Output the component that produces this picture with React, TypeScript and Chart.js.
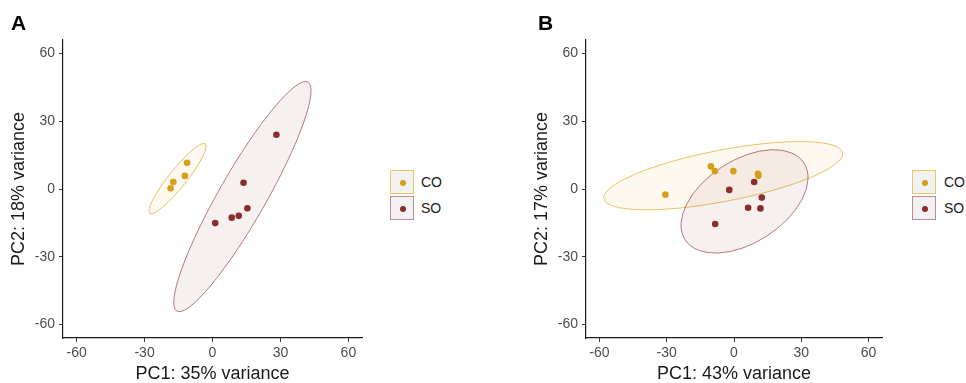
import React, { useEffect, useRef } from "react";
import { Chart, registerables } from "chart.js";
Chart.register(...registerables);

const groups = ["CO", "SO"];
const pcA_CO_x = [-11.2, -12.2, -17.3, -18.5];
const pcA_CO_y = [11.6, 5.8, 3.1, 0.3];
const pcA_SO_x = [28.2, 13.7, 15.4, 11.6, 8.5, 1.2];
const pcA_SO_y = [24.0, 2.8, -8.5, -11.9, -12.7, -15.1];
const pcB_CO_x = [-30.6, -10.3, -8.5, -0.3, 10.7, 10.9];
const pcB_CO_y = [-2.5, 10.0, 7.9, 7.9, 6.7, 5.9];
const pcB_SO_x = [9.0, -2.1, 12.4, 6.3, 11.8, -8.4];
const pcB_SO_y = [3.1, -0.4, -3.8, -8.3, -8.6, -15.5];
// ellipse: [centerX, centerY, semiMajor, semiMinor, angleDeg]
const ellA_CO = [-15.45, 4.6, 19.7, 3.9, 51.5];
const ellA_SO = [13.2, -3.35, 58.4, 10.4, 60.3];
const ellB_CO = [-4.8, 5.9, 54.2, 11.4, 10.8];
const ellB_SO = [4.7, -5.5, 31.5, 18.3, 32.5];
const axisTicks = [-60, -30, 0, 30, 60];
const axisMin = -66;
const axisMax = 66;
const xTitleA = "PC1: 35% variance";
const yTitleA = "PC2: 18% variance";
const xTitleB = "PC1: 43% variance";
const yTitleB = "PC2: 17% variance";

const FONT = "'Liberation Sans', Arial, Helvetica, sans-serif";
const CO_COLOR = "#D5A017";
const SO_COLOR = "#8C2D2D";
const CO_STROKE = "rgba(222,176,50,0.75)";
const SO_STROKE = "rgba(150,70,75,0.7)";
const CO_FILL = "rgba(222,170,40,0.07)";
const SO_FILL = "rgba(140,45,45,0.07)";

const ellipsePlugin = {
  id: "ellipses",
  beforeDatasetsDraw(chart: any, _args: any, opts: any) {
    const { ctx, chartArea, scales } = chart;
    const x = scales.x;
    const y = scales.y;
    ctx.save();
    ctx.beginPath();
    ctx.rect(chartArea.left, chartArea.top, chartArea.right - chartArea.left, chartArea.bottom - chartArea.top);
    ctx.clip();
    for (const e of opts.items || []) {
      const [cx, cy, a, b, ang] = e.params;
      const px = x.getPixelForValue(cx);
      const py = y.getPixelForValue(cy);
      const sx = x.getPixelForValue(cx + 1) - px;
      const sy = y.getPixelForValue(cy + 1) - py;
      ctx.save();
      ctx.translate(px, py);
      ctx.scale(sx, sy);
      ctx.rotate((ang * Math.PI) / 180);
      ctx.beginPath();
      ctx.ellipse(0, 0, a, b, 0, 0, Math.PI * 2);
      ctx.restore();
      ctx.fillStyle = e.fill;
      ctx.fill();
      ctx.strokeStyle = e.stroke;
      ctx.lineWidth = 1;
      ctx.stroke();
    }
    ctx.restore();
  },
};

function toPts(xs: number[], ys: number[]) {
  return xs.map((v, i) => ({ x: v, y: ys[i] }));
}

function axisCfg(title: string, horizontal: boolean, titlePad: number) {
  return {
    type: "linear",
    min: axisMin,
    max: axisMax,
    afterBuildTicks: (s: any) => {
      s.ticks = axisTicks.map((v) => ({ value: v }));
    },
    afterFit: (s: any) => {
      if (horizontal) s.height = 45;
      else s.width = 63;
    },
    ticks: {
      font: { size: 14, family: FONT },
      color: "#4D4D4D",
      padding: horizontal ? 3 : 4,
    },
    grid: {
      display: true,
      drawOnChartArea: false,
      drawTicks: true,
      tickLength: 4,
      color: "#333333",
      lineWidth: 1,
    },
    border: { display: true, color: "#1a1a1a", width: 1.2 },
    title: {
      display: true,
      text: title,
      color: "#1a1a1a",
      font: { size: 18, family: FONT, lineHeight: 1 },
      padding: titlePad,
    },
  };
}

function Panel(props: {
  left: number;
  padLeft: number;
  coX: number[];
  coY: number[];
  soX: number[];
  soY: number[];
  ellCO: number[];
  ellSO: number[];
  xTitle: string;
  yTitle: string;
}) {
  const ref = useRef<HTMLCanvasElement | null>(null);
  useEffect(() => {
    if (!ref.current) return;
    const chart = new Chart(ref.current, {
      type: "scatter",
      data: {
        datasets: [
          {
            label: groups[0],
            data: toPts(props.coX, props.coY),
            backgroundColor: CO_COLOR,
            borderColor: CO_COLOR,
            pointRadius: 3.3,
            borderWidth: 0,
          },
          {
            label: groups[1],
            data: toPts(props.soX, props.soY),
            backgroundColor: SO_COLOR,
            borderColor: SO_COLOR,
            pointRadius: 3.3,
            borderWidth: 0,
          },
        ],
      },
      plugins: [ellipsePlugin],
      options: {
        animation: false,
        responsive: false,
        devicePixelRatio: 1,
        layout: { padding: { left: props.padLeft, top: 40, right: 18, bottom: 0 } },
        scales: {
          x: axisCfg(props.xTitle, true, 0) as any,
          y: axisCfg(props.yTitle, false, 10.5) as any,
        },
        plugins: {
          legend: { display: false },
          tooltip: { enabled: false },
          ellipses: {
            items: [
              { params: props.ellCO, fill: CO_FILL, stroke: CO_STROKE },
              { params: props.ellSO, fill: SO_FILL, stroke: SO_STROKE },
            ],
          },
        } as any,
      },
    } as any);
    return () => chart.destroy();
  }, []);
  return (
    <canvas
      ref={ref}
      width={380}
      height={383}
      style={{ position: "absolute", left: props.left, top: 0, width: 380, height: 383 }}
    />
  );
}

function Legend(props: { left: number; textLeft: number }) {
  const items = [
    { name: groups[0], color: CO_COLOR, border: "#E8C766" },
    { name: groups[1], color: SO_COLOR, border: "#BE8C90" },
  ];
  return (
    <>
      {items.map((it, i) => (
        <React.Fragment key={it.name}>
          <div
            style={{
              position: "absolute",
              left: props.left,
              top: 170 + i * 26,
              width: 24,
              height: 24,
              boxSizing: "border-box",
              border: `1.5px solid ${it.border}`,
              background: "#F2F2F2",
            }}
          >
            <div
              style={{
                position: "absolute",
                left: 8.5,
                top: 8.5,
                width: 6,
                height: 6,
                borderRadius: 3,
                background: it.color,
              }}
            />
          </div>
          <div
            style={{
              position: "absolute",
              left: props.textLeft,
              top: 170 + i * 26,
              height: 24,
              lineHeight: "24px",
              fontSize: 14,
              fontFamily: FONT,
              color: "#1a1a1a",
            }}
          >
            {it.name}
          </div>
        </React.Fragment>
      ))}
    </>
  );
}

export default function App() {
  return (
    <div
      style={{
        position: "absolute",
        left: 0,
        top: 0,
        width: 966,
        height: 383,
        background: "#ffffff",
        overflow: "hidden",
      }}
    >
      <Panel
        left={0}
        padLeft={0}
        coX={pcA_CO_x}
        coY={pcA_CO_y}
        soX={pcA_SO_x}
        soY={pcA_SO_y}
        ellCO={ellA_CO}
        ellSO={ellA_SO}
        xTitle={xTitleA}
        yTitle={yTitleA}
      />
      <Panel
        left={520}
        padLeft={3}
        coX={pcB_CO_x}
        coY={pcB_CO_y}
        soX={pcB_SO_x}
        soY={pcB_SO_y}
        ellCO={ellB_CO}
        ellSO={ellB_SO}
        xTitle={xTitleB}
        yTitle={yTitleB}
      />
      <Legend left={390} textLeft={421} />
      <Legend left={912} textLeft={944} />
      <div
        style={{
          position: "absolute",
          left: 11,
          top: 12,
          fontSize: 21,
          lineHeight: 1,
          fontWeight: "bold",
          fontFamily: FONT,
          color: "#000",
        }}
      >
        A
      </div>
      <div
        style={{
          position: "absolute",
          left: 538,
          top: 12,
          fontSize: 21,
          lineHeight: 1,
          fontWeight: "bold",
          fontFamily: FONT,
          color: "#000",
        }}
      >
        B
      </div>
    </div>
  );
}
